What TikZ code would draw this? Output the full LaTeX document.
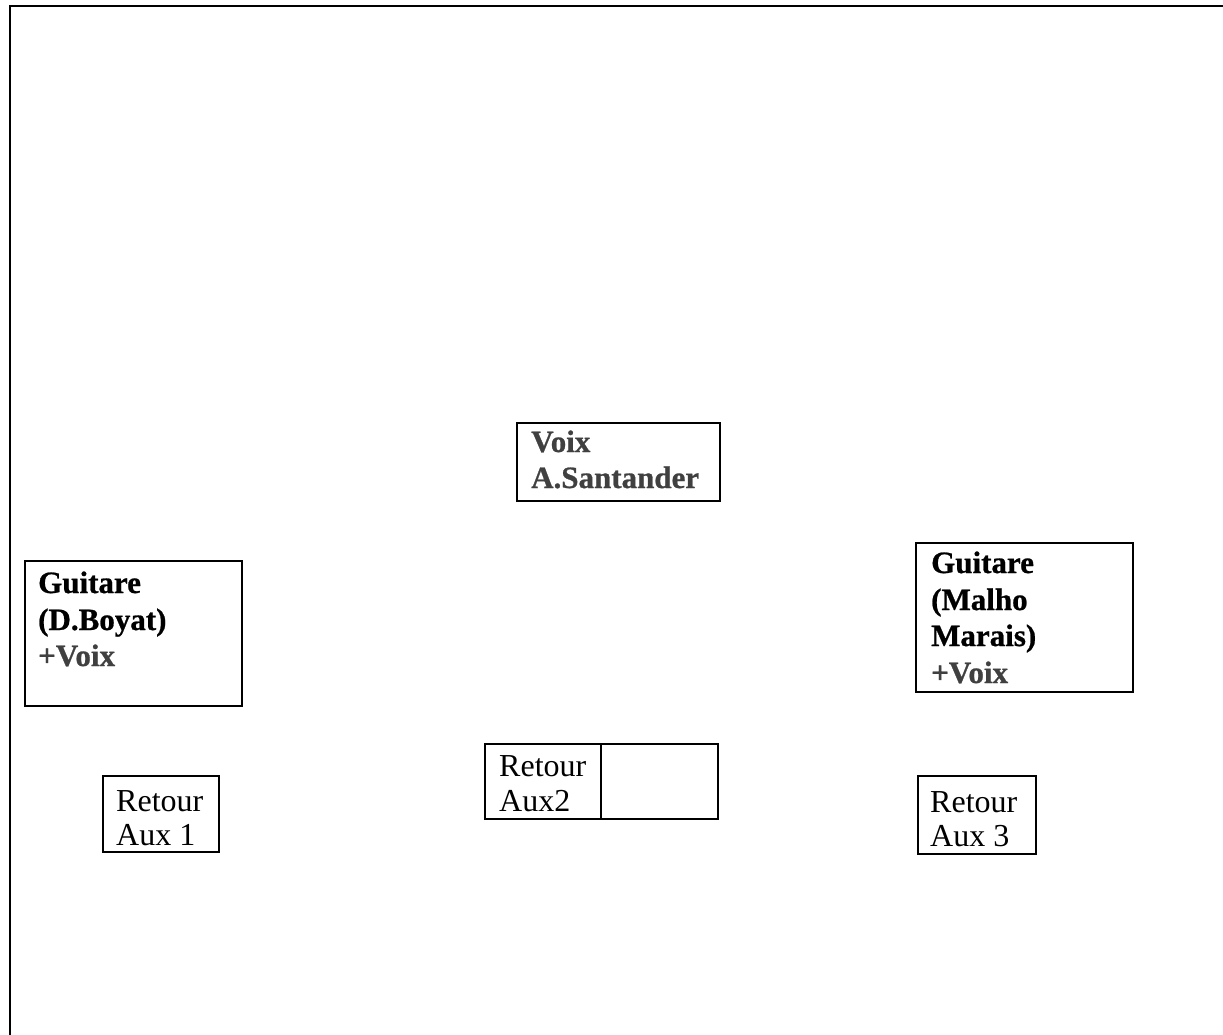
\documentclass[tikz,border=0pt]{standalone}
\usepackage{fontspec}
\setmainfont{Liberation Serif}[BoldFeatures={FakeBold=0.8}]
\definecolor{txtgray}{RGB}{64,64,64}
\tikzset{
  frame/.style={line width=2.4pt, line cap=rect},
  box/.style={draw, line width=2.4pt, inner sep=0pt, anchor=north west},
  boldtxt/.style={anchor=base west, inner sep=0pt, font=\bfseries\fontsize{31}{36}\selectfont},
  regtxt/.style={anchor=base west, inner sep=0pt, font=\fontsize{32}{35}\selectfont},
}
\begin{document}
\begin{tikzpicture}[x=1pt, y=-1pt]
\useasboundingbox (0,0) rectangle (1223,1035);
% outer frame (top and left edges)
\coordinate (fbl) at (10,1040);
\coordinate (ftl) at (10,6);
\coordinate (ftr) at (1228,6);
\draw[frame] (fbl) -- (ftl) -- (ftr);

% Voix A.Santander
\node[box, minimum width=203pt, minimum height=78pt] (voixbox) at (516,422) {};
\node[boldtxt, text=txtgray] (voix1) at (531,452) {Voix};
\node[boldtxt, text=txtgray] (voix2) at (531,488) {A.Santander};

% Guitare left
\node[box, minimum width=217pt, minimum height=145pt] (gleft) at (24,560) {};
\node[boldtxt] (gl1) at (38,593) {Guitare};
\node[boldtxt] (gl2) at (38,630) {(D.Boyat)};
\node[boldtxt, text=txtgray] (gl3) at (38,666) {+Voix};

% Guitare right
\node[box, minimum width=217pt, minimum height=149pt] (gright) at (915,542) {};
\node[boldtxt] (gr1) at (931,573) {Guitare};
\node[boldtxt] (gr2) at (931,610) {(Malho};
\node[boldtxt] (gr3) at (931,646) {Marais)};
\node[boldtxt, text=txtgray] (gr4) at (931,683) {+Voix};

% Retour Aux2
\node[box, minimum width=233pt, minimum height=75pt] (aux2) at (484,743) {};
\draw[line width=2.4pt] ([xshift=117pt]aux2.north west) -- ([xshift=117pt]aux2.south west);
\node[regtxt] (a2l1) at (499,776) {Retour};
\node[regtxt] (a2l2) at (499,811) {Aux2};

% Retour Aux 1
\node[box, minimum width=116pt, minimum height=76pt] (aux1) at (102,775) {};
\node[regtxt] (a1l1) at (116,811) {Retour};
\node[regtxt] (a1l2) at (116,845) {Aux 1};

% Retour Aux 3
\node[box, minimum width=118pt, minimum height=78pt] (aux3) at (917,775) {};
\node[regtxt] (a3l1) at (930,812) {Retour};
\node[regtxt] (a3l2) at (930,846) {Aux 3};
\end{tikzpicture}
\end{document}
